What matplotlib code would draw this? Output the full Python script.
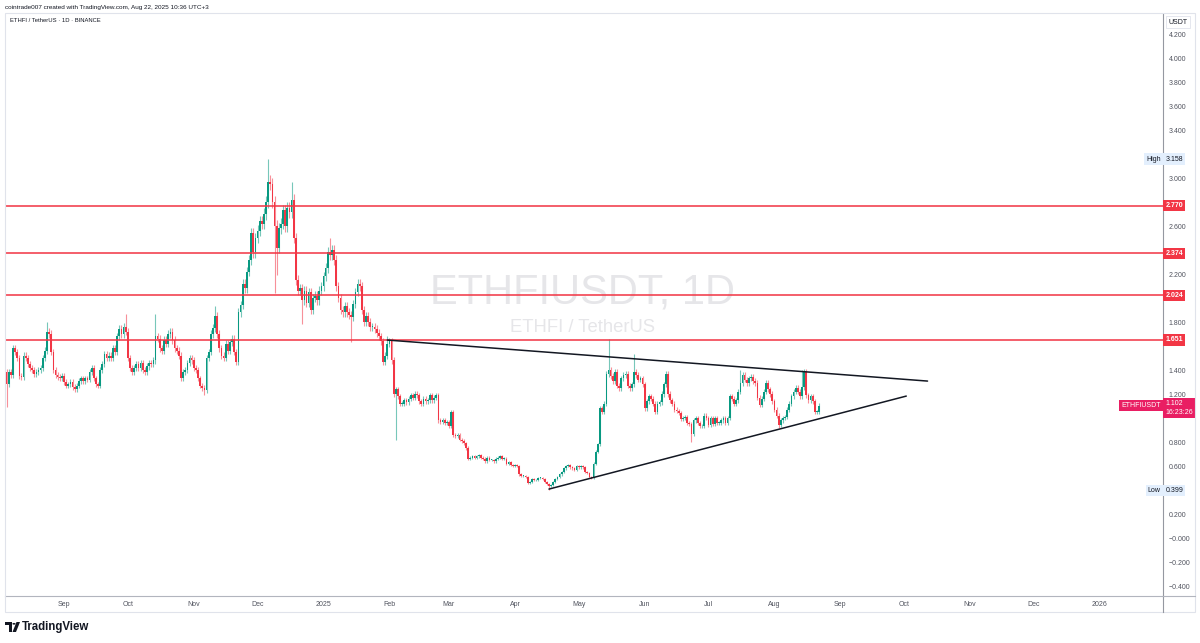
import matplotlib
matplotlib.use("Agg")
import matplotlib.pyplot as plt
import matplotlib.dates as mdates
import pandas as pd
from matplotlib.patches import Rectangle, Polygon, Circle
from matplotlib.lines import Line2D

plt.rcParams["font.family"] = ["Liberation Sans", "DejaVu Sans"]

# daily closes, ETHFI/USDT, starting 2024-08-05
close = [
    1.28, 1.38, 1.36, 1.58, 1.55, 1.50, 1.35, 1.34, 1.52, 1.50,
    1.45, 1.42, 1.40, 1.37, 1.38, 1.40, 1.42, 1.50, 1.56, 1.72,
    1.70, 1.55, 1.40, 1.36, 1.34, 1.33, 1.35, 1.30, 1.27, 1.28,
    1.30, 1.26, 1.24, 1.27, 1.31, 1.33, 1.31, 1.33, 1.32, 1.38,
    1.42, 1.33, 1.28, 1.27, 1.40, 1.45, 1.53, 1.50, 1.52, 1.50,
    1.58, 1.55, 1.68, 1.74, 1.70, 1.76, 1.72, 1.50, 1.42, 1.38,
    1.42, 1.45, 1.42, 1.46, 1.40, 1.38, 1.43, 1.46, 1.45, 1.48,
    1.68, 1.66, 1.58, 1.56, 1.65, 1.62,
    1.70, 1.72, 1.65, 1.58, 1.56, 1.52, 1.33, 1.38, 1.40, 1.46,
    1.50, 1.48, 1.42, 1.40, 1.33, 1.27, 1.25, 1.23, 1.50, 1.55,
    1.70, 1.75, 1.85, 1.70, 1.58, 1.52, 1.50, 1.62, 1.56, 1.63,
    1.66, 1.55, 1.47, 1.88, 1.94, 2.12, 2.08, 2.22, 2.32, 2.54,
    2.38, 2.50, 2.56, 2.64, 2.62, 2.70, 2.80, 2.97, 2.95, 2.80,
    2.60, 2.42, 2.58, 2.62, 2.73, 2.60, 2.75, 2.72, 2.82, 2.50,
    2.15, 2.06, 2.08, 1.98, 2.06, 1.96, 2.05, 1.90, 2.00, 2.02,
    1.98, 2.06, 2.10, 2.18, 2.25, 2.38, 2.36, 2.40, 2.32, 2.10,
    2.00,
    1.90, 1.88, 1.93, 1.88, 1.86, 1.84, 1.95, 2.05, 2.12, 2.10,
    1.90, 1.80, 1.85, 1.80, 1.76, 1.76, 1.74, 1.71, 1.68, 1.64,
    1.47, 1.52, 1.62, 1.64, 1.48, 1.20, 1.24, 1.18, 1.12, 1.12,
    1.15, 1.13, 1.16, 1.19, 1.17, 1.20, 1.19, 1.14, 1.12, 1.16,
    1.14, 1.15, 1.19, 1.15, 1.17, 1.19, 0.98, 0.97, 0.98, 0.96,
    0.97, 0.93, 1.05, 0.86, 0.85, 0.86, 0.82, 0.81, 0.79, 0.75,
    0.66, 0.67, 0.68, 0.67, 0.68, 0.69, 0.67, 0.66, 0.64, 0.67,
    0.65, 0.65, 0.64, 0.66, 0.67, 0.68, 0.66, 0.66, 0.62,
    0.63, 0.61, 0.60, 0.61, 0.60, 0.53, 0.52, 0.52, 0.51, 0.46,
    0.47, 0.49, 0.48, 0.48, 0.50, 0.50, 0.49, 0.47, 0.45, 0.43,
    0.44, 0.47, 0.49, 0.51, 0.53, 0.55, 0.58, 0.60, 0.61, 0.59,
    0.58, 0.57, 0.60, 0.59, 0.60, 0.59, 0.55, 0.54, 0.51, 0.50,
    0.62, 0.72, 0.78, 1.08, 1.05, 1.12, 1.37, 1.40, 1.35, 1.31,
    1.38, 1.27, 1.25, 1.33, 1.36, 1.37, 1.27, 1.25, 1.28, 1.38,
    1.36, 1.32, 1.33, 1.28, 1.08, 1.14, 1.18, 1.16, 1.12, 1.05,
    1.12, 1.13, 1.20, 1.28, 1.37,
    1.20, 1.15, 1.12, 1.07, 1.06, 1.04, 0.99, 1.00, 1.01, 0.96,
    0.95, 0.87, 0.98, 1.00, 0.96, 0.93, 0.93, 1.02, 1.00, 0.94,
    1.00, 0.95, 1.00, 0.96, 0.96, 0.98, 1.00, 0.96, 1.00, 1.18,
    1.16, 1.12, 1.15, 1.22, 1.29, 1.36, 1.32, 1.29, 1.33, 1.34,
    1.31, 1.29, 1.17, 1.11, 1.16, 1.22, 1.29, 1.24, 1.20, 1.14,
    1.07, 1.02, 0.94, 0.98, 1.00, 1.01, 1.07, 1.12, 1.18, 1.22,
    1.25, 1.22, 1.18, 1.26, 1.38, 1.19, 1.15, 1.18, 1.14, 1.05,
    1.05, 1.102,
]
first_open = 1.38

# wicks that stand out on the chart
spike_highs = {
    "2024-08-24": 1.80, "2024-09-30": 1.87, "2024-10-14": 1.87,
    "2024-11-11": 1.93, "2024-12-06": 3.158, "2024-12-17": 2.97,
    "2025-01-04": 2.50, "2025-01-31": 1.68, "2025-05-15": 1.66,
    "2025-05-27": 1.53, "2025-07-16": 1.40, "2025-08-14": 1.40,
}
spike_lows = {
    "2024-08-05": 1.09, "2024-11-06": 1.19, "2024-12-09": 2.04,
    "2024-12-10": 2.19, "2024-12-22": 1.78, "2025-01-14": 1.63,
    "2025-02-04": 0.82, "2025-04-17": 0.399, "2025-06-23": 0.80,
    "2025-08-03": 0.92,
}

levels = [2.770, 2.374, 2.024, 1.651]
upper_trend = (["2025-01-31", "2025-10-12"], [1.65, 1.308])
lower_trend = (["2025-04-17", "2025-10-02"], [0.408, 1.183])

# price ticks whose labels are not hidden behind the price tags
yticks = [-0.4, -0.2, 0.0, 0.2, 0.6, 0.8, 1.2, 1.4, 1.8,
          2.2, 2.6, 3.0, 3.4, 3.6, 3.8, 4.0, 4.2]
month_ticks = pd.date_range("2024-09-01", "2026-01-01", freq="MS")

GREEN = "#089981"
RED = "#f23645"
W, H = 1200, 643

dates = pd.date_range("2024-08-05", periods=len(close), freq="D")
opens = [first_open] + close[:-1]
xs = mdates.date2num(dates)

fig = plt.figure(figsize=(W / 100, H / 100), dpi=100)
fig.patch.set_facecolor("white")


def fx(px):
    return px / W


def fy(py):
    return 1 - py / H


ax = fig.add_axes([fx(5), fy(596), fx(1163) - fx(5), fy(14) - fy(596)])

wick_frac = 0.018
for i, d in enumerate(dates):
    o, c = opens[i], close[i]
    key = d.strftime("%Y-%m-%d")
    hi = spike_highs.get(key, max(o, c) * (1 + wick_frac))
    lo = spike_lows.get(key, min(o, c) * (1 - wick_frac))
    col = GREEN if c >= o else RED
    ax.vlines(xs[i], lo, hi, color=col, lw=0.8, alpha=0.55, zorder=3)
    body = max(abs(c - o), 0.006)
    ax.bar(xs[i], body, bottom=min(o, c), width=0.8, color=col,
           linewidth=0, zorder=4)

for lv in levels:
    ax.axhline(lv, color=RED, lw=1.4, alpha=0.8, zorder=5)

for tx, ty in (upper_trend, lower_trend):
    ax.plot(mdates.date2num(pd.to_datetime(tx)), ty, color="#131722",
            lw=1.1, zorder=6, solid_capstyle="round")

x0 = xs[0]
ax.set_xlim(x0 - 0.75, x0 + 543.7)
ax.set_ylim(-0.483, 4.367)

# watermark
ax.text(0.499, 0.522, "ETHFIUSDT, 1D", transform=ax.transAxes, fontsize=30,
        color="#e6e6e9", ha="center", va="center", zorder=0)
ax.text(0.499, 0.462, "ETHFI / TetherUS", transform=ax.transAxes,
        fontsize=13.3, color="#e6e6e9", ha="center", va="center", zorder=0)

# axes styling
for s in ["top", "left"]:
    ax.spines[s].set_visible(False)
ax.spines["right"].set_color("#9598a1")
ax.spines["bottom"].set_color("#b2b5be")
ax.yaxis.tick_right()
ax.set_yticks(yticks)
ax.set_yticklabels([("\u22120.000" if abs(v) < 1e-9 else f"{v:.3f}".replace("-", "\u2212"))
                    for v in yticks])
ax.tick_params(axis="y", length=0, pad=4, labelsize=5, labelcolor="#50535e")
ax.set_xticks(mdates.date2num(month_ticks))
ax.set_xticklabels([str(m.year) if m.month == 1 else m.strftime("%b")
                    for m in month_ticks])
ax.tick_params(axis="x", length=0, pad=3.5, labelsize=5, labelcolor="#50535e")

ytr = ax.get_yaxis_transform()


def tag(y, text, fc, tc, side="right", va="center", weight="normal"):
    ax.text(1.002 if side == "right" else 0.998, y, text, transform=ytr,
            fontsize=5, color=tc, ha="left" if side == "right" else "right",
            va=va, fontweight=weight, clip_on=False, zorder=20,
            linespacing=1.25,
            bbox=dict(boxstyle="square,pad=0.3", fc=fc, ec="none"))


for lv in levels:
    tag(lv, f"{lv:.3f}", RED, "white", weight="bold")

tag(3.158, "3.158", "#e3effd", "#131722")
tag(3.158, "High", "#e3effd", "#131722", side="left")
tag(0.399, "0.399", "#e3effd", "#131722")
tag(0.399, "Low", "#e3effd", "#131722", side="left")
tag(1.102 + 0.045, "1.102\n16:23:26", "#e91e63", "white", va="top")
tag(1.102, "ETHFIUSDT", "#e91e63", "white", side="left")

# outer frame and price/time axis separators
fig.add_artist(Rectangle((fx(5), fy(612)), fx(1190), fy(13) - fy(612),
                         transform=fig.transFigure, fill=False,
                         ec="#e0e3eb", lw=0.8))
fig.add_artist(Line2D([fx(1163), fx(1163)], [fy(612), fy(596)],
                      transform=fig.transFigure, color="#9598a1", lw=0.8))
fig.add_artist(Line2D([fx(1163), fx(1195)], [fy(596), fy(596)],
                      transform=fig.transFigure, color="#b2b5be", lw=0.8))

fig.text(fx(1178), fy(22), "USDT", fontsize=5, color="#131722",
         ha="center", va="center",
         bbox=dict(boxstyle="square,pad=0.35", fc="white", ec="#e0e3eb", lw=0.6))

fig.text(fx(5), fy(7), "cointrade007 created with TradingView.com, Aug 22, 2025 10:36 UTC+3",
         fontsize=4.6, color="#131722", ha="left", va="center")
fig.text(fx(10), fy(21), "ETHFI / TetherUS \u00b7 1D \u00b7 BINANCE",
         fontsize=4.2, color="#131722", ha="left", va="center")

# TradingView logo
fig.add_artist(Polygon([(fx(5), fy(622)), (fx(12), fy(622)), (fx(12), fy(632)),
                        (fx(9), fy(632)), (fx(9), fy(625)), (fx(5), fy(625))],
                       closed=True, transform=fig.transFigure, fc="#131722", ec="none"))
fig.add_artist(Circle((fx(14), fy(623.8)), 1.6 / W, transform=fig.transFigure,
                      fc="#131722", ec="none"))
fig.add_artist(Polygon([(fx(16.5), fy(622)), (fx(20), fy(622)), (fx(16), fy(632)),
                        (fx(12.5), fy(632))],
                       closed=True, transform=fig.transFigure, fc="#131722", ec="none"))
fig.text(fx(22), fy(627), "TradingView", fontsize=8.3, fontweight="bold",
         color="#131722", ha="left", va="center")

fig.savefig("out.png", dpi=100, facecolor="white")
